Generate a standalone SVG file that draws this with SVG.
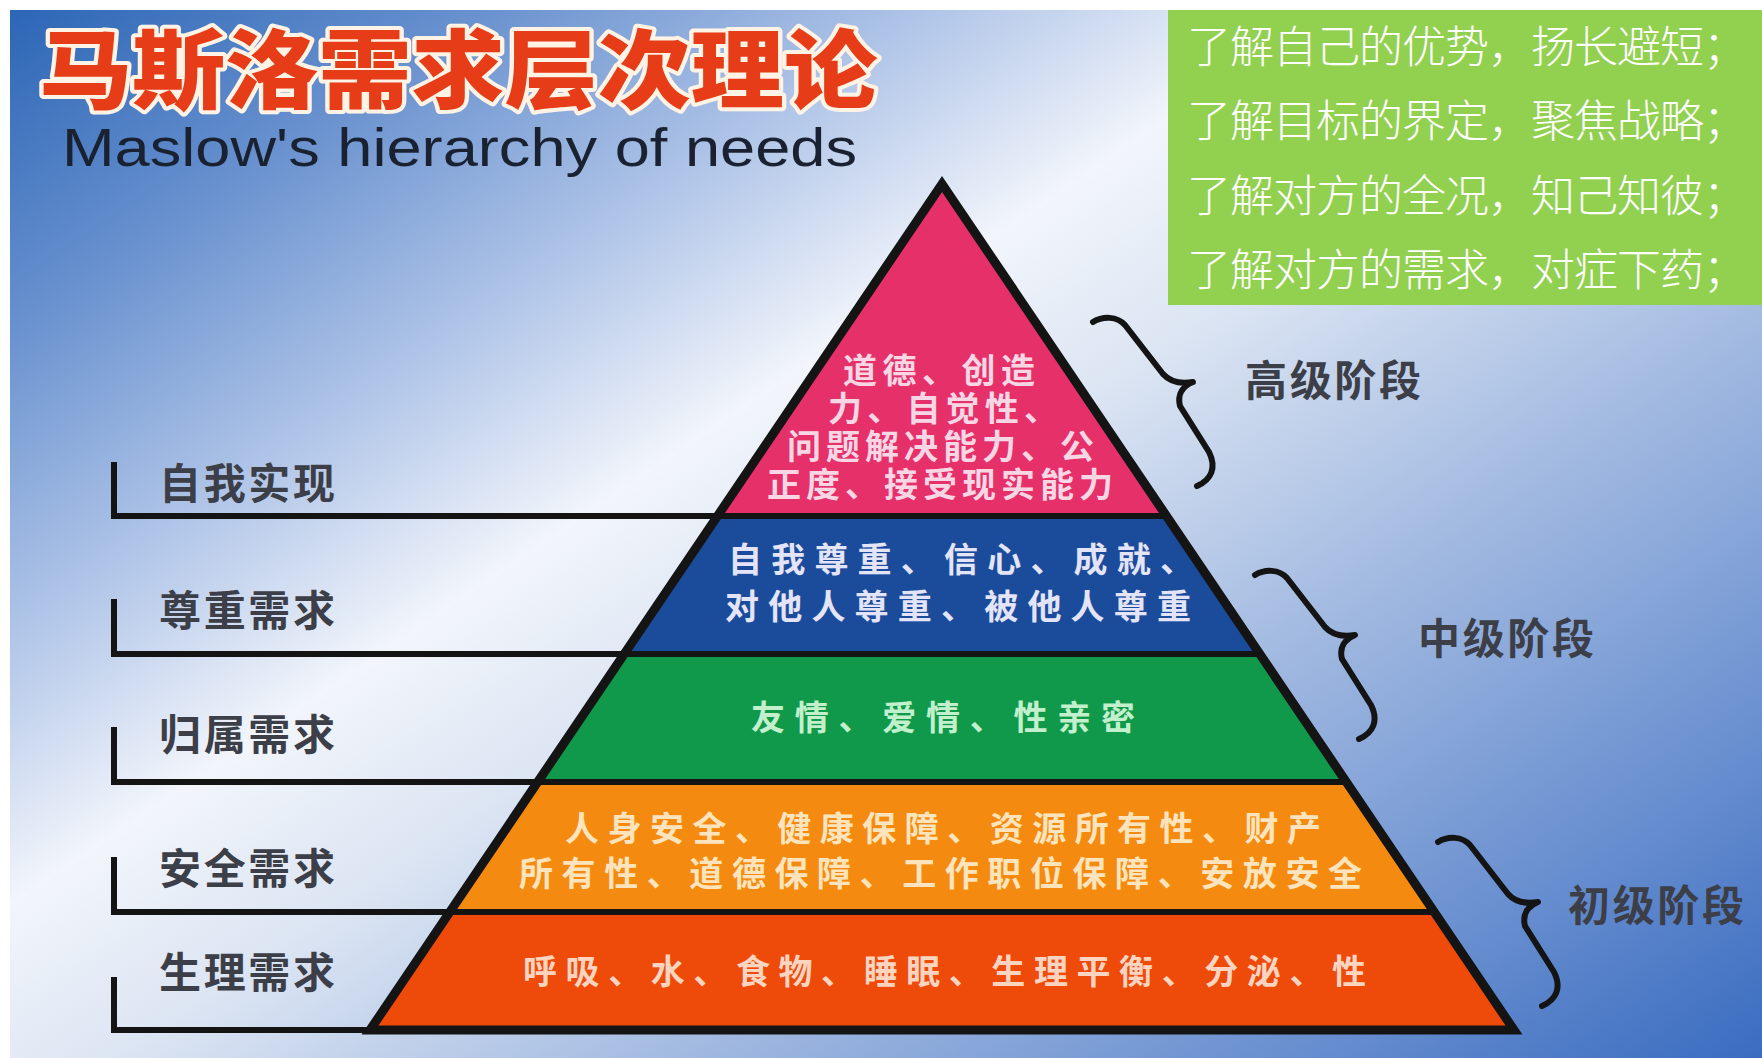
<svg xmlns="http://www.w3.org/2000/svg" width="1762" height="1058" viewBox="0 0 1762 1058">
<defs>
<linearGradient id="bg" gradientUnits="userSpaceOnUse" x1="10" y1="10" x2="1050" y2="1541">
<stop offset="0" stop-color="#2c66b6"/>
<stop offset="0.14" stop-color="#6790ce"/>
<stop offset="0.28" stop-color="#b0c5e8"/>
<stop offset="0.4" stop-color="#f2f5fb"/>
<stop offset="0.5" stop-color="#dce5f3"/>
<stop offset="0.65" stop-color="#a9bfe3"/>
<stop offset="0.85" stop-color="#6a90d0"/>
<stop offset="1" stop-color="#3a6cc0"/>
</linearGradient>
<path id="brace" d="M0,0 C10,-6 24,-6 32,3 L70,52 C78,61 88,62 100,60 C90,64 84,72 87,84 L116,130 C124,146 118,158 104,164"/>
</defs>
<style>
.cjk{font-family:"Noto Sans CJK SC","Noto Sans",sans-serif;dominant-baseline:central}
.lay{font-weight:bold;font-size:34px}
.lbl{font-weight:bold;font-size:42px;fill:#3c3e48}
.gt{font-size:44px;fill:#ffffff;font-weight:300}
.ln{stroke:#141414;stroke-width:6;fill:none;stroke-linecap:square}
.br{stroke:#141414;stroke-width:6;fill:none;stroke-linecap:round;stroke-linejoin:round}
</style>
<rect x="0" y="0" width="1762" height="1058" fill="#ffffff"/>
<rect id="background" x="10" y="10" width="1752" height="1048" fill="url(#bg)"/>

<g id="title">
<text class="cjk" x="39" y="64" font-size="86" font-weight="900" textLength="838" lengthAdjust="spacingAndGlyphs" fill="#e63c18" stroke="#fff3e6" stroke-width="8" stroke-linejoin="round" paint-order="stroke">马斯洛需求层次理论</text>
</g>
<g id="subtitle">
<text x="62" y="166" font-family="'Liberation Sans',Arial,sans-serif" font-size="53" fill="#1a2232" textLength="795" lengthAdjust="spacingAndGlyphs">Maslow's hierarchy of needs</text>
</g>

<g id="tips">
<rect x="1168" y="10" width="594" height="295" fill="#92d050"/>
<text class="cjk gt" x="1187" y="44" textLength="560">了解自己的优势，扬长避短；</text>
<text class="cjk gt" x="1187" y="118" textLength="560">了解目标的界定，聚焦战略；</text>
<text class="cjk gt" x="1187" y="193" textLength="560">了解对方的全况，知己知彼；</text>
<text class="cjk gt" x="1187" y="267" textLength="560">了解对方的需求，对症下药；</text>
</g>

<g id="layer-self-actualization">
<polygon points="942,184 1166,516 718,516" fill="#e6306a"/>
<g class="cjk lay" fill="#f9d6e4">
<text x="843" y="368" textLength="192">道德、创造</text>
<text x="828" y="406" textLength="230">力、自觉性、</text>
<text x="787" y="444" textLength="307">问题解决能力、公</text>
<text x="767" y="482" textLength="346">正度、接受现实能力</text>
</g>
</g>
<g id="layer-esteem">
<polygon points="718,516 1166,516 1260,654 624,654" fill="#1b4b9b"/>
<g class="cjk lay" fill="#e4e4f8">
<text x="728" y="557" textLength="466">自我尊重、信心、成就、</text>
<text x="725" y="604" textLength="466">对他人尊重、被他人尊重</text>
</g>
</g>
<g id="layer-belonging">
<polygon points="624,654 1260,654 1346,782 538,782" fill="#10994a"/>
<text class="cjk lay" x="751" y="715" textLength="384" fill="#c2f0cc">友情、爱情、性亲密</text>
</g>
<g id="layer-safety">
<polygon points="538,782 1346,782 1434,912 450,912" fill="#f58a10"/>
<g class="cjk lay" fill="#fde4bc">
<text x="565" y="826" textLength="756">人身安全、健康保障、资源所有性、财产</text>
<text x="519" y="871" textLength="843">所有性、道德保障、工作职位保障、安放安全</text>
</g>
</g>
<g id="layer-physiological">
<polygon points="450,912 1434,912 1514,1030 370,1030" fill="#ee4a0a"/>
<text class="cjk lay" x="523" y="969" textLength="843" fill="#fdd4c0">呼吸、水、食物、睡眠、生理平衡、分泌、性</text>
</g>

<g id="connectors">
<path class="ln" d="M114,465 V516 H1166 M114,602 V654 H1260 M114,730 V782 H1346 M114,860 V912 H1434 M114,980 V1030 H1514"/>
<polygon points="942,184 1514,1030 370,1030" fill="none" stroke="#141414" stroke-width="9" stroke-linejoin="miter"/>
<use href="#brace" class="br" x="1093" y="322"/>
<use href="#brace" class="br" x="1255" y="575"/>
<use href="#brace" class="br" x="1438" y="842"/>
</g>

<g id="label-self"><text class="cjk lbl" x="159" y="480" textLength="176">自我实现</text></g>
<g id="label-esteem"><text class="cjk lbl" x="159" y="607" textLength="176">尊重需求</text></g>
<g id="label-belonging"><text class="cjk lbl" x="159" y="731" textLength="176">归属需求</text></g>
<g id="label-safety"><text class="cjk lbl" x="159" y="865" textLength="176">安全需求</text></g>
<g id="label-physiological"><text class="cjk lbl" x="159" y="969" textLength="176">生理需求</text></g>

<g id="stage-high"><text class="cjk lbl" x="1245" y="377" textLength="176">高级阶段</text></g>
<g id="stage-mid"><text class="cjk lbl" x="1418" y="635" textLength="176">中级阶段</text></g>
<g id="stage-low"><text class="cjk lbl" x="1568" y="902" textLength="176">初级阶段</text></g>
</svg>
